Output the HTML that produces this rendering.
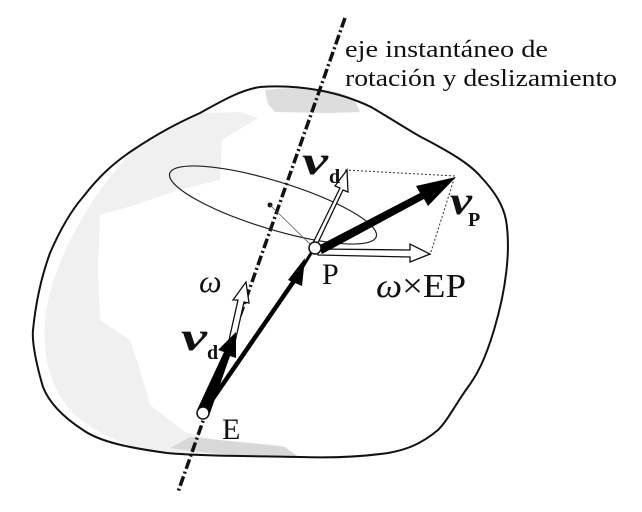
<!DOCTYPE html>
<html><head><meta charset="utf-8"><style>
html,body{margin:0;padding:0;background:#fff;}
svg{display:block}
text{font-family:"Liberation Serif",serif;fill:#111}
</style></head><body>
<svg width="642" height="512" viewBox="0 0 642 512" xmlns="http://www.w3.org/2000/svg">
<path d="M265,90 C300,86 340,88 355,100 L360,112 L330,113 L275,112 L268,104 Z" fill="#ddd"/>
<path d="M200,113 C170,125 140,140 120,165 C90,200 60,250 48,300 C40,340 45,380 70,410 C100,440 140,450 170,455 L300,458 L280,445 L215,440 L185,432 L150,405 L140,370 L130,340 L100,320 L98,270 L100,215 L135,205 L178,190 L220,180 L222,140 L258,118 L240,112 Z" fill="#f0f0f0"/>
<path d="M170,448 C220,455 270,458 300,458 L285,447 L220,440 L190,437 Z" fill="#d8d8d8"/>
<path d="M260,87 C300,84 340,92 371,107 C390,118 405,128 421,137 C450,152 470,164 481,177 C495,192 503,205 506,220 C511,250 506,290 494,330 C485,360 477,375 468,387 C455,405 448,420 438,430 C420,445 405,450 388,453 C360,457 330,458 300,457 C250,456 200,456 167,453 C130,448 100,442 83,430 C60,415 48,400 43,387 C35,360 32,340 33,330 C36,300 42,275 50,253 C60,230 70,212 83,197 C100,175 115,162 133,150 C160,132 180,122 200,113 C220,102 240,90 260,87 Z" fill="none" stroke="#111" stroke-width="2"/>
<line x1="345" y1="18" x2="178" y2="492" stroke="#111" stroke-width="3.5" stroke-dasharray="10,3,2,3"/>
<ellipse cx="273" cy="205" rx="108" ry="24" transform="rotate(17 273 205)" fill="none" stroke="#222" stroke-width="1.2"/>
<circle cx="270" cy="205" r="2.5" fill="#111"/>
<line x1="270" y1="205" x2="313" y2="247" stroke="#555" stroke-width="0.8"/>
<path d="M345,170 L455,176 L430,255" fill="none" stroke="#333" stroke-width="1" stroke-dasharray="2,2"/>
<path d="M312,245 L340,188 L335,186 L347,170 L348,192 L343,190 L316,247 Z" fill="#fff" stroke="#111" stroke-width="1.3"/>
<path d="M318,249 L410,250 L410,244 L430,254 L410,262 L410,257 L318,255 Z" fill="#fff" stroke="#111" stroke-width="1.3"/>
<path d="M229,340 L238,300 L233,300 L246,282 L249,303 L244,302 L235,342 Z" fill="#fff" stroke="#111" stroke-width="1.3"/>
<path d="M203,413 L296,278" stroke="#000" stroke-width="4.5"/>
<path d="M288,280 L305,258 L302,286 Z" fill="#000"/>
<line x1="296" y1="278" x2="313" y2="250" stroke="#000" stroke-width="3"/>
<path d="M197,410 L224,352 L218,350 L236,332 L236,358 L230,356 L209,416 Z" fill="#000"/>
<path d="M318,246 L420,193 L416,186 L456,177 L428,206 L424,199 L322,254 Z" fill="#000"/>
<circle cx="315" cy="248" r="6" fill="#fff" stroke="#111" stroke-width="1.5"/>
<circle cx="203" cy="413" r="6" fill="#fff" stroke="#111" stroke-width="1.5"/>
<text x="345" y="57" font-size="24" textLength="203" lengthAdjust="spacingAndGlyphs">eje instantáneo de</text>
<text x="345" y="86" font-size="24" textLength="272" lengthAdjust="spacingAndGlyphs">rotación y deslizamiento</text>
<text x="302" y="174" font-size="40" font-style="italic" font-weight="bold" textLength="26" lengthAdjust="spacingAndGlyphs">v</text>
<text x="329" y="183" font-size="20" font-weight="bold">d</text>
<text x="450" y="214" font-size="40" font-style="italic" font-weight="bold" textLength="22" lengthAdjust="spacingAndGlyphs">v</text>
<text x="468" y="226" font-size="20" font-weight="bold">P</text>
<text x="199" y="292" font-size="32" font-style="italic">ω</text>
<text x="181" y="350" font-size="40" font-style="italic" font-weight="bold" textLength="26" lengthAdjust="spacingAndGlyphs">v</text>
<text x="207" y="359" font-size="20" font-weight="bold">d</text>
<text x="322" y="284" font-size="30">P</text>
<text x="376" y="297" font-size="34" textLength="90" lengthAdjust="spacingAndGlyphs"><tspan font-style="italic">ω</tspan>×EP</text>
<text x="222" y="439" font-size="30">E</text>
</svg>
</body></html>
